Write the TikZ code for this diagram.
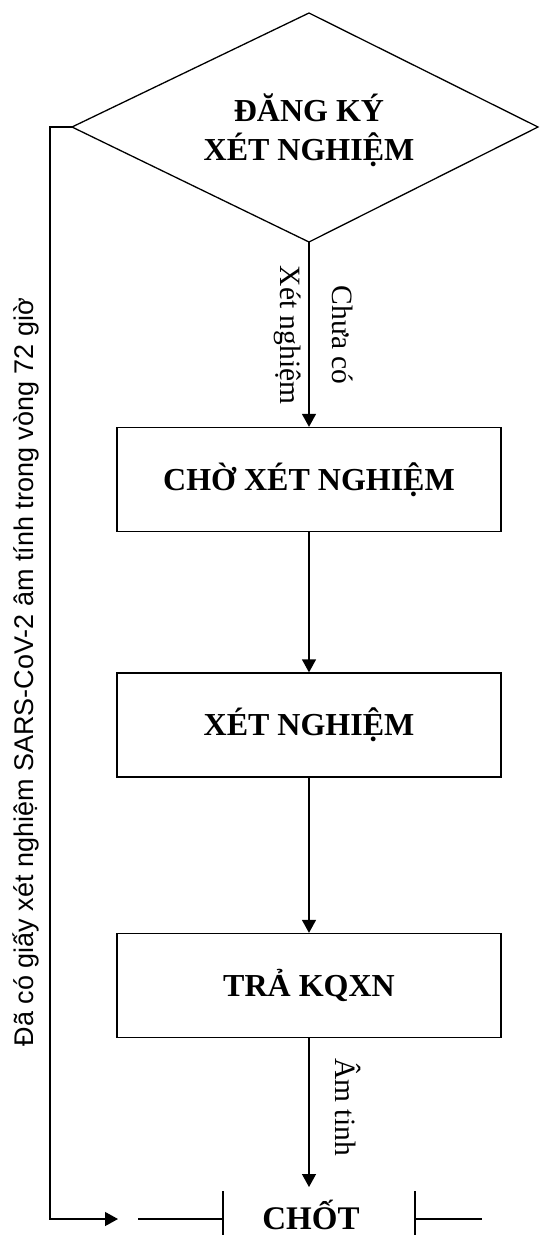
\documentclass[tikz,border=0pt]{standalone}
\usepackage{fontspec}
\setmainfont{Liberation Serif}
\newfontfamily\sidefont{Liberation Sans}
\usetikzlibrary{arrows.meta}
\begin{document}
\begin{tikzpicture}[x=1pt,y=-1pt,line width=1.3pt,
  flow/.style={-{Triangle[length=13pt,width=14pt]}},
  procbox/.style={draw,minimum width=384pt,minimum height=104pt,inner sep=0pt,
    font=\fontsize{32}{36}\selectfont\bfseries},
  biglabel/.style={font=\fontsize{32}{39}\selectfont\bfseries,align=center,inner sep=0pt},
  smalllabel/.style={font=\fontsize{29.5}{32}\selectfont,inner sep=0pt,anchor=base},
  sidelabel/.style={font=\sidefont\fontsize{27}{30}\selectfont,inner sep=0pt,anchor=base}]
\useasboundingbox (0,0) rectangle (540,1235);
% decision
\coordinate (dT) at (309,13);
\coordinate (dR) at (538,127);
\coordinate (dB) at (309,242);
\coordinate (dL) at (72,127);
\draw (dT) -- (dR) -- (dB) -- (dL) -- cycle;
\node[biglabel] (reg) at (309,130) {ĐĂNG KÝ\\XÉT NGHIỆM};
% process boxes
\node[procbox] (wait) at (309,479.5) {CHỜ XÉT NGHIỆM};
\node[procbox] (test) at (309,725) {XÉT NGHIỆM};
\node[procbox] (result) at (309,985.5) {TRẢ KQXN};
% connectors
\draw[flow] (dB) -- (wait.north);
\draw[flow] (wait.south) -- (test.north);
\draw[flow] (test.south) -- (result.north);
\coordinate (endTip) at (309,1187);
\draw[flow] (result.south) -- (endTip);
% loop on the left
\coordinate (loopTop) at (50,127);
\coordinate (loopBot) at (50,1219);
\coordinate (loopTip) at (118,1219);
\draw[flow] (dL) -- (loopTop) -- (loopBot) -- (loopTip);
% terminal
\coordinate (cA) at (138,1219);
\coordinate (cB) at (223,1219);
\coordinate (cC) at (415,1219);
\coordinate (cD) at (482,1219);
\coordinate (bLt) at (223,1191);
\coordinate (bLb) at (223,1240);
\coordinate (bRt) at (415,1191);
\coordinate (bRb) at (415,1240);
\draw (cA) -- (cB);
\draw (bLt) -- (bLb);
\draw (bRt) -- (bRb);
\draw (cC) -- (cD);
\node[font=\fontsize{33}{36}\selectfont\bfseries,anchor=base,inner sep=0pt] (stop) at (311,1229) {CHỐT};
% labels
\node[smalllabel,rotate=-90] (lblA) at (332,335) {Chưa có};
\node[smalllabel,rotate=-90] (lblB) at (280,335) {Xét nghiệm};
\node[smalllabel,rotate=-90] (lblC) at (335,1107) {Âm tinh};
\node[sidelabel,rotate=90] (lblSide) at (33,672) {Đã có giấy xét nghiệm SARS-CoV-2 âm tính trong vòng 72 giờ};
\end{tikzpicture}
\end{document}
